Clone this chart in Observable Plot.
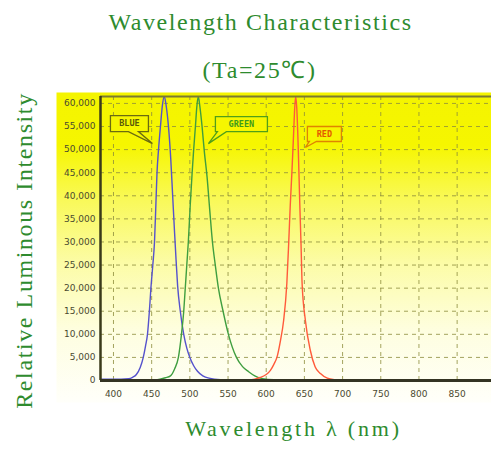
<!DOCTYPE html>
<html><head><meta charset="utf-8">
<script src="https://cdn.jsdelivr.net/npm/d3@7"></script>
<script src="https://cdn.jsdelivr.net/npm/@observablehq/plot@0.6"></script>
<style>
body{margin:0;background:#fff}
svg{display:block}
</style>
</head><body><div id="chart"></div>
<script>
// ---- data ----
const blueWl = [383,400,410,420,425,430,435,439,442,444.5,447,449,451.5,453.7,455.5,457,459,461.5,464,466.5,469,472,475,477.5,480,482,484,487.5,492,496,500,505,510,517,525,540,560,600,700,895];
const blueI  = [300,300,300,400,700,1300,2800,5000,7500,10000,15000,20000,25000,30000,38000,45000,50000,55000,59500,61500,59500,55000,48000,40000,32000,26000,20500,15000,10000,7000,5000,3200,2000,1000,500,200,150,100,100,100];

const greenWl = [383,450,461,468,474.6,480,485,489,492,494,496,498,500.5,503,505,507.3,509,511,513,516,519,522.6,526,529.6,533.3,537.4,543.5,550.5,561,569,577,585,595,610,650,700,895];
const greenI  = [0,100,300,600,1000,2500,5000,10000,15000,20000,25000,30000,38000,45000,50000,55000,59000,61500,59500,55000,49500,44000,37000,30000,25000,20000,15000,10000,5000,3000,1900,1000,400,150,50,0,0];

const redWl = [383,560,579,592,600,605.5,610,614,618.6,622.8,627,629.5,631.5,633.6,635.5,637,638.5,640,642,644,645.5,647,651.3,657.8,664,671,680,690,700,895];
const redI  = [0,0,100,650,1300,2200,3500,5000,8600,13000,21000,30000,38000,45000,52000,58000,61500,59000,50000,38000,30000,21000,13000,6500,3000,1500,500,150,50,0];

const xTicks = [400,450,500,550,600,650,700,750,800,850];
const yTicks = [0,5000,10000,15000,20000,25000,30000,35000,40000,45000,50000,55000,60000];
const xDomain = [383, 895];
const yDomain = [0, 61500];

const labelNames = ["BLUE","GREEN","RED"];
const labelWl = [451, 524.3, 651.3];
const labelI = [51300, 51300, 50460];

const titleText = "Wavelength Characteristics";
const subtitleText = "(Ta=25℃)";
const xTitle = "Wavelength λ (nm)";
const yTitle = "Relative Luminous Intensity";

// ---- build ----
const rows = [
  ...blueWl.map((w,i)=>({series:"BLUE", wl:w, v:blueI[i]})),
  ...greenWl.map((w,i)=>({series:"GREEN", wl:w, v:greenI[i]})),
  ...redWl.map((w,i)=>({series:"RED", wl:w, v:redI[i]}))
];
const lineColors = {BLUE:"#5552cc", GREEN:"#3f9e3f", RED:"#ff5a3a"};

// speech-bubble symbol: tip at origin
function bubble(ox, oy, w, h, b1, b2) {
  return {draw(ctx) {
    ctx.moveTo(ox, oy);
    ctx.lineTo(ox + w, oy);
    ctx.lineTo(ox + w, oy + h);
    ctx.lineTo(b2, oy + h);
    ctx.lineTo(0, 0);
    ctx.lineTo(b1, oy + h);
    ctx.lineTo(ox, oy + h);
    ctx.closePath();
  }};
}
const bubbleStyle = {
  BLUE:  {sym: bubble(-42,-28,38,16,-24,-14), stroke:"#6b6b10", text:"#5a5a08", dx:-23, dy:-20},
  GREEN: {sym: bubble(7,-27,52,15,9,18), stroke:"#50a018", text:"#3f9a1c", dx:33, dy:-19.5},
  RED:   {sym: bubble(2,-21,34,15,4,11), stroke:"#e08400", text:"#e45a00", dx:19, dy:-13.5}
};
const labels = labelNames.map((n,i)=>({name:n, wl:labelWl[i], v:labelI[i]}));

const bubbleMarks = labels.flatMap(d => {
  const s = bubbleStyle[d.name];
  return [
    Plot.dot([d], {x:"wl", y:"v", r:5, symbol: s.sym, fill:"#f6f600", stroke:s.stroke, strokeWidth:1.3}),
    Plot.text([d], {x:"wl", y:"v", text:"name", dx:s.dx, dy:s.dy, fill:s.text, fontSize:8.5, fontWeight:"bold", fontFamily:"DejaVu Sans Mono", textAnchor:"middle"})
  ];
});

const green = "#2e8b2e";
const serif = "'Liberation Serif', 'Times New Roman', serif";

const chart = Plot.plot({
  width: 491, height: 453,
  marginTop: 96, marginBottom: 73, marginLeft: 100, marginRight: 0,
  style: {color: "#4a4a30", background: "transparent", fontFamily: "DejaVu Sans"},
  x: {domain: xDomain},
  y: {domain: yDomain},
  marks: [
    Plot.frame({fill: "url(#panelGrad)", stroke: "none", insetLeft: -44, insetTop: -4, insetBottom: -22}),
    Plot.ruleY(yTicks.slice(1), {stroke:"#8c8c3c", strokeDasharray:"4,4", strokeWidth:1, strokeOpacity:0.8}),
    Plot.ruleX(xTicks, {stroke:"#8c8c3c", strokeDasharray:"4,4", strokeWidth:1, strokeOpacity:0.8}),
    Plot.axisY({ticks: yTicks, tickFormat: d3.format(","), tickSize: 0, tickPadding: 5, fontSize: 9, label: null}),
    Plot.axisX({ticks: xTicks, tickFormat: d => String(d), tickSize: 0, tickPadding: 10, fontSize: 9, label: null}),
    Plot.line(rows, {x:"wl", y:"v", z:"series", stroke: d => lineColors[d.series], strokeWidth:1.4, curve:"monotone-x", clip:true}),
    Plot.ruleY([yDomain[1]], {stroke:"#7a7a30", strokeWidth:2}),
    Plot.ruleX([xDomain[0]], {stroke:"#3a3a1a", strokeWidth:2.5}),
    Plot.ruleY([0], {stroke:"#333322", strokeWidth:3}),
    ...bubbleMarks,
    Plot.text([titleText], {text: d=>d, frameAnchor:"top-left", dx:160, dy:-74, textAnchor:"middle", lineAnchor:"middle", fontSize:24, fontFamily:serif, fill:green}),
    Plot.text([subtitleText], {text: d=>d, frameAnchor:"top-left", dx:159, dy:-26, textAnchor:"middle", lineAnchor:"middle", fontSize:24, fontFamily:serif, fill:green}),
    Plot.text([xTitle], {text: d=>d, frameAnchor:"bottom-left", dx:193, dy:48, textAnchor:"middle", lineAnchor:"middle", fontSize:22, fontFamily:serif, fill:green}),
    Plot.text([yTitle], {text: d=>d, frameAnchor:"left", dx:-76, dy:12, rotate:-90, textAnchor:"middle", lineAnchor:"middle", fontSize:24, fontFamily:serif, fill:green})
  ]
});

const defs = d3.select(chart).insert("defs", ":first-child");
const grad = defs.append("linearGradient").attr("id","panelGrad").attr("x1",0).attr("y1",0).attr("x2",0).attr("y2",1);
[[0,"#f4f400"],[0.17,"#f6f600"],[0.35,"#f9f95a"],[0.55,"#fcfca6"],[0.77,"#fefee0"],[1,"#fffffa"]].forEach(([o,c]) =>
  grad.append("stop").attr("offset", o).attr("stop-color", c));

// letter-spacing for the serif titles, matched by their text
const spacing = new Map([[titleText,"1.6px"],[subtitleText,"1.6px"],[yTitle,"1.6px"],[xTitle,"2.8px"]]);
d3.select(chart).selectAll("text").each(function() {
  const s = spacing.get(this.textContent);
  if (s) this.setAttribute("letter-spacing", s);
});

document.getElementById("chart").appendChild(chart);
</script>
</body></html>
